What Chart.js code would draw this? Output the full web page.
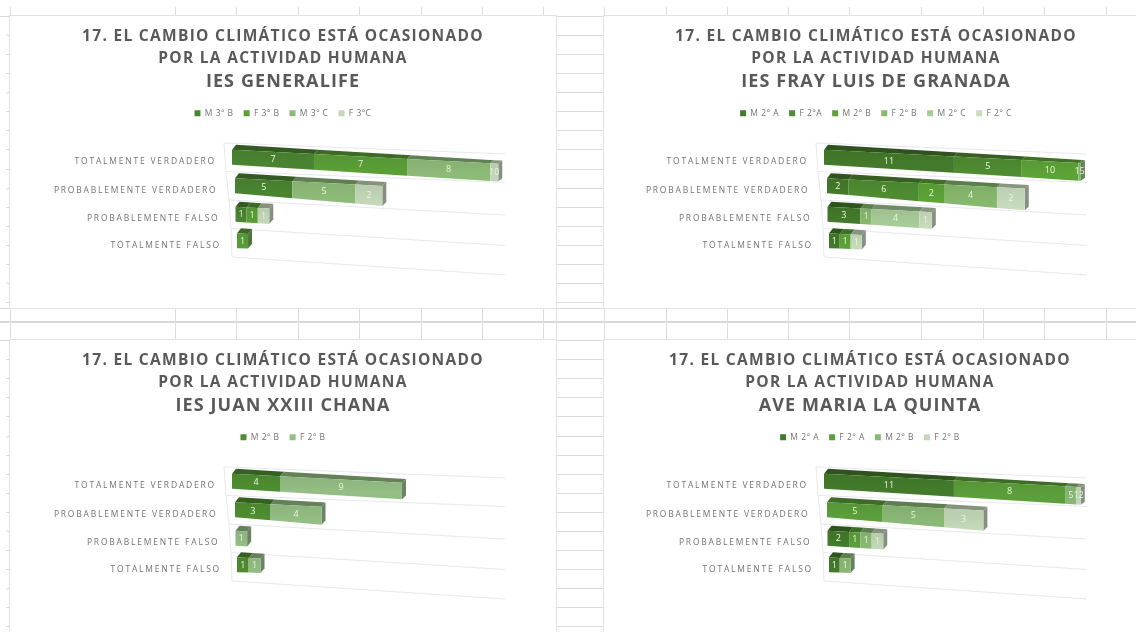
<!DOCTYPE html>
<html><head><meta charset="utf-8">
<script src="https://cdn.jsdelivr.net/npm/chart.js@4"></script>
<style>
html,body{margin:0;padding:0;width:1136px;height:632px;overflow:hidden;background:#fff}
#sheet div{position:absolute;background:#dcdcdc}
.panel{position:absolute;background:#fff;outline:1px solid #e2e2e2}
.panel canvas{filter:blur(.45px)}
</style></head><body>
<div id="sheet"></div>
<script>
const categories = ['TOTALMENTE VERDADERO','PROBABLEMENTE VERDADERO','PROBABLEMENTE FALSO','TOTALMENTE FALSO'];
const titleLines = ['17. EL CAMBIO CLIMÁTICO ESTÁ OCASIONADO','POR LA ACTIVIDAD HUMANA'];

const generalifeNames = ['M 3º B','F 3º B','M 3º C','F 3ºC'];
const generalifeM3B = [7,5,1,0];
const generalifeF3B = [7,0,1,1];
const generalifeM3C = [8,5,0,0];
const generalifeF3C = [10,2,1,0];
const generalifeColors = ['#4a8431','#5a9e36','#8dbb78','#c4d8b9'];

const frayNames = ['M 2º A','F 2ºA','M 2º B','F 2º B','M 2º C','F 2º C'];
const frayM2A = [11,2,3,1];
const frayF2A = [5,6,0,0];
const frayM2B = [10,2,0,1];
const frayF2B = [15,4,1,0];
const frayM2C = [0,0,4,0];
const frayF2C = [0,2,1,1];
const frayColors = ['#437a2b','#4f8c31','#5da437','#86b96d','#a8cc98','#c8dcbe'];

const juanNames = ['M 2º B','F 2º B'];
const juanM2B = [4,3,0,1];
const juanF2B = [9,4,1,1];
const juanColors = ['#4e8d30','#94be84'];

const aveNames = ['M 2º A','F 2º A','M 2º B','F 2º B'];
const aveM2A = [11,0,2,1];
const aveF2A = [8,5,1,0];
const aveM2B = [5,5,1,1];
const aveF2B = [12,3,1,0];
const aveColors = ['#437a2b','#5b9f3a','#8ab976','#c3d8b8'];

/* spreadsheet backdrop */
const sheet = document.getElementById('sheet');
function seg(x,y,w,h,c){const d=document.createElement('div');d.style.cssText=`left:${x}px;top:${y}px;width:${w}px;height:${h}px`+(c?`;background:${c}`:'');sheet.appendChild(d);}
for(let k=0;k<33;k++){const y=Math.round(16+19.07*k);seg(6,y,4,1);seg(556,y,48,1);}
seg(0,321,1136,2,'#d9d9d9');seg(0,340,1136,1);seg(0,308,1136,1);seg(0,16,1136,1);
const colsA=[10,175,236,298,359,421,482,543,604,666,727,788,849,921,983,1044,1106];
colsA.forEach(x=>{seg(x,7,1,9);seg(x,308,1,32);});
seg(604,16,1,616);seg(556,16,1,616);

/* depth drawing: the bars' geometry comes from Chart.js elements and scales */
const bandShift=[0,3,3.5,5], bandNudge=[0,0,0,-2], bottomSlope=[.063,.087,.07,.04], topSlope=.052;
const labelShiftX=[0,1.5,3.5,5], labelShiftY=[4,5,4,3];
const gridLeftShift=[-8,-6,-3,-1,0], gridRightRise=[11,11,15,17,18];
function mix(hex,f,g){const n=parseInt(hex.slice(1),16);const c=[n>>16,(n>>8)&255,n&255].map(v=>Math.round(v*f+(g||0)));return `rgb(${c.join(',')})`;}
function poly(ctx,pts,fill){ctx.beginPath();pts.forEach((p,i)=>i?ctx.lineTo(p[0],p[1]):ctx.moveTo(p[0],p[1]));ctx.closePath();ctx.fillStyle=fill;ctx.fill();}
function project(chart,v,i){
  const a=chart.chartArea,k=chart.options.plugins.depth.k,knee=k*241.1,end=a.width-4;
  const raw=v<=19?k*(10.6*v+.11*v*v):knee+(end-knee)*(1-Math.exp(-(v-19)/4));
  return a.left+bandShift[i]+Math.min(raw,end-bandShift[i]);
}
const depth={
  id:'depth',
  beforeLayout(chart){chart.ctx.letterSpacing='.55px';},
  beforeDraw(chart){
    const y=chart.scales.y,ctx=chart.ctx;
    if(!y._shifted){
      y.getLabelItems(chart.chartArea).forEach((it,i)=>{it.options.translation[0]+=labelShiftX[i];it.options.translation[1]+=labelShiftY[i];});
      y._shifted=true;
      const dl=y.drawLabels.bind(y);y.drawLabels=a=>{ctx.letterSpacing='1.8px';dl(a);};
      const tb=chart.titleBlock,td=tb.draw.bind(tb);tb.draw=()=>{ctx.letterSpacing='1.3px';td();};
      chart.boxes.filter(b=>b!==tb&&b!==chart.legend&&b.options&&b.options.text).forEach(b=>{const d=b.draw.bind(b);b.draw=()=>{ctx.letterSpacing='1.1px';d();};});
      const l=chart.legend.draw.bind(chart.legend);chart.legend.draw=()=>{ctx.letterSpacing='.55px';l();};
    }
  },
  beforeDatasetsDraw(chart){
    const ctx=chart.ctx,a=chart.chartArea,xs=chart.scales.x;
    ctx.save();ctx.letterSpacing='0px';
    /* floor and wall lines */
    ctx.strokeStyle='#e8e8ee';ctx.lineWidth=1;
    const step=a.height/4;
    for(let k=0;k<=4;k++){
      const y=a.top+k*step;
      ctx.beginPath();ctx.moveTo(a.left+gridLeftShift[k],y);ctx.lineTo(a.right+2,y+gridRightRise[k]);ctx.stroke();
    }
    ctx.beginPath();
    for(let k=0;k<=4;k++){const y=a.top+k*step;k?ctx.lineTo(a.left+gridLeftShift[k],y):ctx.moveTo(a.left+gridLeftShift[k],y);}
    ctx.stroke();
    /* bars */
    ctx.beginPath();ctx.rect(a.left-12,a.top-8,a.width+12,a.height+30);ctx.clip();
    const sets=chart.data.datasets;
    const dz=4;
    for(let c=0;c<categories.length;c++){
      let last=-1;sets.forEach((s,d)=>{if(s.data[c]>0)last=d;});
      const labels=[];
      sets.forEach((s,d)=>{
        if(!(s.data[c]>0))return;
        const el=chart.getDatasetMeta(d).data[c];
        const x0=project(chart,xs.getValueForPixel(el.base),c);
        const x1=project(chart,xs.getValueForPixel(el.x),c);
        const left=a.left+bandShift[c];
        const t0=el.y-el.height/2+bandNudge[c],b0=el.y+el.height/2+bandNudge[c];
        const T=x=>t0+topSlope*(x-left),B=x=>b0+bottomSlope[c]*(x-left);
        const D=x=>5-2*(x-left)/a.width;
        poly(ctx,[[x0,T(x0)],[x1,T(x1)],[x1+dz,T(x1)-D(x1)],[x0+dz,T(x0)-D(x0)]],mix(s.backgroundColor,.68));
        if(d===last) poly(ctx,[[x1,T(x1)],[x1+dz,T(x1)-D(x1)],[x1+dz,B(x1)-D(x1)],[x1,B(x1)]],mix(s.backgroundColor,.5,35));
        const g=ctx.createLinearGradient(0,T(x0),0,B(x0));
        g.addColorStop(0,mix(s.backgroundColor,.94));g.addColorStop(1,s.backgroundColor);
        poly(ctx,[[x0,T(x0)],[x1,T(x1)],[x1,B(x1)],[x0,B(x0)]],g);
        const mx=(x0+x1)/2;
        labels.push([String(s.data[c]),mx,(T(mx)+B(mx))/2]);
      });
      ctx.font='9px "Open Sans", sans-serif';ctx.textAlign='center';ctx.textBaseline='middle';ctx.fillStyle='#eaf6dc';
      labels.forEach(l=>ctx.fillText(l[0],l[1],l[2]));
    }
    ctx.restore();
    return false;
  }
};

function makePanel(cfg){
  const box=document.createElement('div');box.className='panel';
  box.style.cssText=`left:${cfg.left}px;top:${cfg.top}px;width:${cfg.width}px;height:292px`;
  const cv=document.createElement('canvas');cv.width=cfg.width;cv.height=292;cv.style.cssText=`width:${cfg.width}px;height:292px;display:block`;
  box.appendChild(cv);document.body.appendChild(box);
  new Chart(cv,{
    type:'bar',
    data:{labels:categories,datasets:cfg.names.map((n,i)=>({label:n,data:cfg.series[i],backgroundColor:cfg.colors[i],stack:'s',xAxisID:'x',yAxisID:'y',categoryPercentage:1,barPercentage:.52}))},
    plugins:[depth],
    options:{
      indexAxis:'y',responsive:false,animation:false,
      layout:{padding:{left:0,right:0,top:0,bottom:51}},
      scales:{
        x:{type:'linear',position:'top',stacked:true,min:0,max:40,grid:{display:false},border:{display:false},ticks:{display:false},afterFit(s){s.height=15.5;}},
        y:{stacked:true,grid:{display:false},border:{display:false},ticks:{autoSkip:false,padding:8,color:'#737373',font:{family:'"Open Sans", sans-serif',size:8.5}},afterFit(s){s.width=cfg.axisWidth;}},
        rightGap:{axis:'y',type:'linear',position:'right',grid:{display:false},border:{display:false},ticks:{display:false},afterFit(s){s.width=cfg.rightPad;}}
      },
      plugins:{
        depth:{k:cfg.k},
        tooltip:{enabled:false},
        title:{display:true,text:titleLines,color:'#595959',font:{family:'"Open Sans", sans-serif',size:15.5,weight:'bold',lineHeight:1.42},padding:{top:10,bottom:0}},
        subtitle:{display:true,text:cfg.school,color:'#595959',font:{family:'"Open Sans", sans-serif',size:18,weight:'bold',lineHeight:1.33},padding:{top:0,bottom:5}},
        legend:{position:'top',labels:{boxWidth:6,boxHeight:6,padding:10,color:'#737373',font:{family:'"Open Sans", sans-serif',size:8.5}}}
      }
    }
  });
}
makePanel({left:10,top:16,width:546,rightPad:53,axisWidth:222,k:1.03,school:'IES GENERALIFE',names:generalifeNames,colors:generalifeColors,series:[generalifeM3B,generalifeF3B,generalifeM3C,generalifeF3C]});
makePanel({left:604,top:16,width:544,rightPad:63,axisWidth:220,k:1,school:'IES FRAY LUIS DE GRANADA',names:frayNames,colors:frayColors,series:[frayM2A,frayF2A,frayM2B,frayF2B,frayM2C,frayF2C]});
makePanel({left:10,top:340,width:546,rightPad:53,axisWidth:222,k:1.087,school:'IES JUAN XXIII CHANA',names:juanNames,colors:juanColors,series:[juanM2B,juanF2B]});
makePanel({left:604,top:340,width:532,rightPad:51,axisWidth:220,k:1,school:'AVE MARIA LA QUINTA',names:aveNames,colors:aveColors,series:[aveM2A,aveF2A,aveM2B,aveF2B]});
</script>
</body></html>
